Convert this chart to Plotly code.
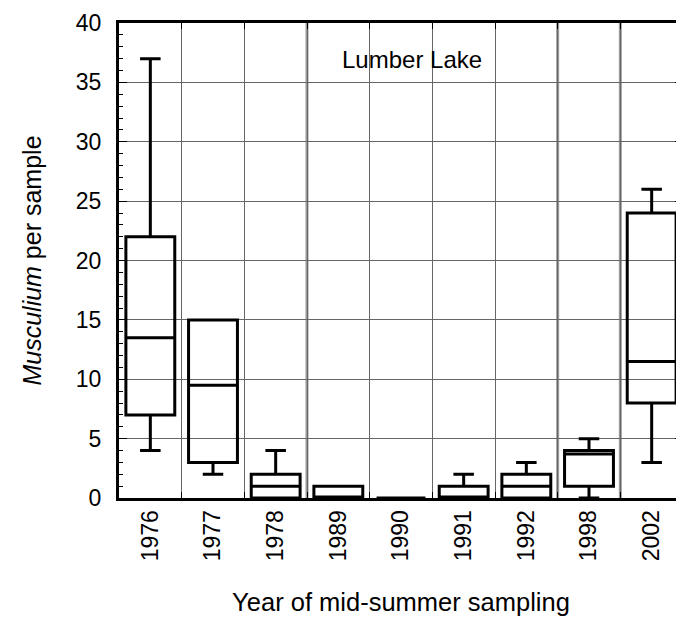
import plotly.graph_objects as go

# values (per sampling year)
years = ["1976", "1977", "1978", "1989", "1990", "1991", "1992", "1998", "2002"]
lower_whisker = [4, 2, 0, 0, 0, 0, 0, 0, 3]
q1 = [7, 3, 0, 0, 0, 0, 0, 1, 8]
median = [13.5, 9.5, 1, 0, 0, 0, 1, 3.7, 11.5]
q3 = [22, 15, 2, 1, 0, 1, 2, 4, 24]
upper_whisker = [37, 15, 4, 1, 0, 2, 3, 5, 26]

# period breaks drawn as heavy grey lines (between categories)
period_breaks = [2.5, 6.5, 7.5]

fig = go.Figure()
fig.add_trace(go.Box(
    x=years,
    q1=q1, median=median, q3=q3,
    lowerfence=lower_whisker, upperfence=upper_whisker,
    width=0.78,
    whiskerwidth=0.42,
    fillcolor="rgba(0,0,0,0)",
    line=dict(color="black", width=3),
    showlegend=False,
    hoverinfo="skip",
))

for b in period_breaks:
    fig.add_shape(type="line", xref="x", yref="paper", x0=b, x1=b, y0=0, y1=1,
                  line=dict(color="#9a9a9a", width=3), layer="below")

fig.add_annotation(text="Lumber Lake", xref="paper", yref="paper", x=0.52, y=0.955,
                   showarrow=False, font=dict(size=24, color="black"), xanchor="center", yanchor="top")

axis_frame = dict(showline=True, linewidth=3, linecolor="black", mirror="allticks")

fig.update_xaxes(
    type="category",
    tickson="boundaries",
    showgrid=True, gridcolor="#666", gridwidth=1,
    ticks="inside", ticklen=6, tickcolor="black",
    tickangle=-90,
    tickfont=dict(size=23, color="black"),
    title=dict(text="Year of mid-summer sampling", font=dict(size=25.5, color="black"), standoff=33),
    range=[-0.5, 8.5],
    automargin=False,
    **axis_frame,
)
fig.update_yaxes(
    range=[0, 40], dtick=5,
    showgrid=True, gridcolor="#666", gridwidth=1,
    ticks="inside", ticklen=8, tickcolor="black",
    minor=dict(dtick=1, ticks="inside", ticklen=4, tickcolor="black", showgrid=False),
    tickfont=dict(size=23, color="black"),
    ticklabelstandoff=10,
    title=dict(text="<i>Musculium</i> per sample", font=dict(size=25, color="black"), standoff=28),
    zeroline=False,
    automargin=False,
    **axis_frame,
)

fig.update_layout(
    width=684, height=633,
    margin=dict(l=111, r=9, t=15, b=143),
    plot_bgcolor="white", paper_bgcolor="white",
    font=dict(family="Liberation Sans, Arial, sans-serif", color="black"),
)

fig.write_html("out.html")
